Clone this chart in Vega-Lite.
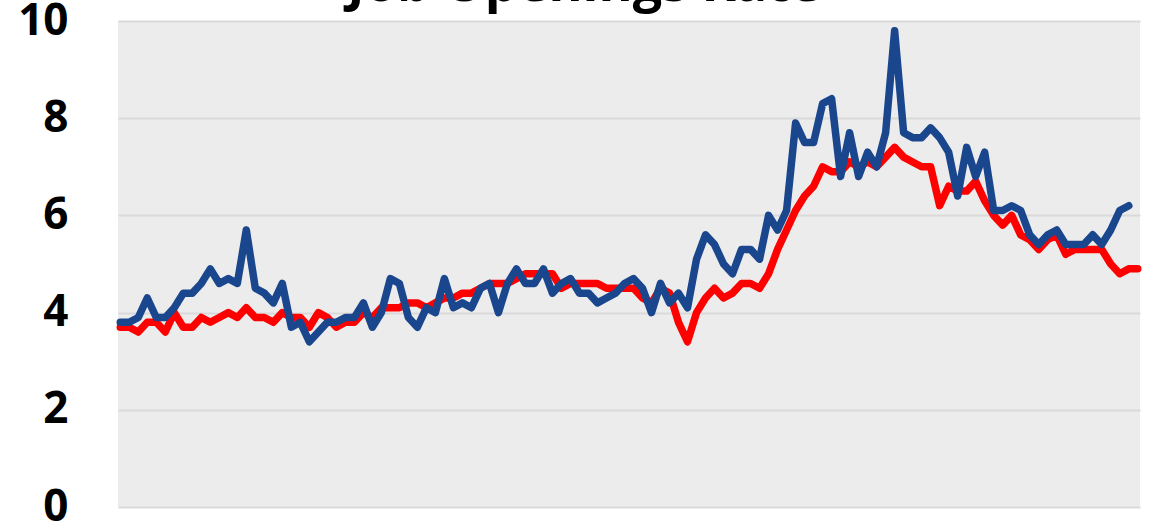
{
  "$schema": "https://vega.github.io/schema/vega-lite/v6.json",
  "autosize": {"type": "none"},
  "width": 1022,
  "height": 486,
  "padding": {"left": 118, "top": 21, "right": 12, "bottom": 19},
  "background": "white",
  "title": {"text": "Job Openings Rate", "font": "Open Sans", "fontSize": 52, "fontWeight": "bold", "color": "black", "anchor": "middle", "frame": "group", "dx": -45, "dy": 68, "baseline": "alphabetic", "offset": 14},
  "view": {"fill": "#ECECEC", "stroke": null},
  "data": {"values": [
    {"month": "2015-01", "total": 3.7, "sector": 3.8},
    {"month": "2015-02", "total": 3.7, "sector": 3.8},
    {"month": "2015-03", "total": 3.6, "sector": 3.9},
    {"month": "2015-04", "total": 3.8, "sector": 4.3},
    {"month": "2015-05", "total": 3.8, "sector": 3.9},
    {"month": "2015-06", "total": 3.6, "sector": 3.9},
    {"month": "2015-07", "total": 4.0, "sector": 4.1},
    {"month": "2015-08", "total": 3.7, "sector": 4.4},
    {"month": "2015-09", "total": 3.7, "sector": 4.4},
    {"month": "2015-10", "total": 3.9, "sector": 4.6},
    {"month": "2015-11", "total": 3.8, "sector": 4.9},
    {"month": "2015-12", "total": 3.9, "sector": 4.6},
    {"month": "2016-01", "total": 4.0, "sector": 4.7},
    {"month": "2016-02", "total": 3.9, "sector": 4.6},
    {"month": "2016-03", "total": 4.1, "sector": 5.7},
    {"month": "2016-04", "total": 3.9, "sector": 4.5},
    {"month": "2016-05", "total": 3.9, "sector": 4.4},
    {"month": "2016-06", "total": 3.8, "sector": 4.2},
    {"month": "2016-07", "total": 4.0, "sector": 4.6},
    {"month": "2016-08", "total": 3.9, "sector": 3.7},
    {"month": "2016-09", "total": 3.9, "sector": 3.8},
    {"month": "2016-10", "total": 3.7, "sector": 3.4},
    {"month": "2016-11", "total": 4.0, "sector": 3.6},
    {"month": "2016-12", "total": 3.9, "sector": 3.8},
    {"month": "2017-01", "total": 3.7, "sector": 3.8},
    {"month": "2017-02", "total": 3.8, "sector": 3.9},
    {"month": "2017-03", "total": 3.8, "sector": 3.9},
    {"month": "2017-04", "total": 4.0, "sector": 4.2},
    {"month": "2017-05", "total": 3.9, "sector": 3.7},
    {"month": "2017-06", "total": 4.1, "sector": 4.0},
    {"month": "2017-07", "total": 4.1, "sector": 4.7},
    {"month": "2017-08", "total": 4.1, "sector": 4.6},
    {"month": "2017-09", "total": 4.2, "sector": 3.9},
    {"month": "2017-10", "total": 4.2, "sector": 3.7},
    {"month": "2017-11", "total": 4.1, "sector": 4.1},
    {"month": "2017-12", "total": 4.2, "sector": 4.0},
    {"month": "2018-01", "total": 4.3, "sector": 4.7},
    {"month": "2018-02", "total": 4.3, "sector": 4.1},
    {"month": "2018-03", "total": 4.4, "sector": 4.2},
    {"month": "2018-04", "total": 4.4, "sector": 4.1},
    {"month": "2018-05", "total": 4.5, "sector": 4.5},
    {"month": "2018-06", "total": 4.6, "sector": 4.6},
    {"month": "2018-07", "total": 4.6, "sector": 4.0},
    {"month": "2018-08", "total": 4.6, "sector": 4.6},
    {"month": "2018-09", "total": 4.7, "sector": 4.9},
    {"month": "2018-10", "total": 4.8, "sector": 4.6},
    {"month": "2018-11", "total": 4.8, "sector": 4.6},
    {"month": "2018-12", "total": 4.8, "sector": 4.9},
    {"month": "2019-01", "total": 4.8, "sector": 4.4},
    {"month": "2019-02", "total": 4.5, "sector": 4.6},
    {"month": "2019-03", "total": 4.6, "sector": 4.7},
    {"month": "2019-04", "total": 4.6, "sector": 4.4},
    {"month": "2019-05", "total": 4.6, "sector": 4.4},
    {"month": "2019-06", "total": 4.6, "sector": 4.2},
    {"month": "2019-07", "total": 4.5, "sector": 4.3},
    {"month": "2019-08", "total": 4.5, "sector": 4.4},
    {"month": "2019-09", "total": 4.5, "sector": 4.6},
    {"month": "2019-10", "total": 4.5, "sector": 4.7},
    {"month": "2019-11", "total": 4.3, "sector": 4.5},
    {"month": "2019-12", "total": 4.2, "sector": 4.0},
    {"month": "2020-01", "total": 4.5, "sector": 4.6},
    {"month": "2020-02", "total": 4.4, "sector": 4.2},
    {"month": "2020-03", "total": 3.8, "sector": 4.4},
    {"month": "2020-04", "total": 3.4, "sector": 4.1},
    {"month": "2020-05", "total": 4.0, "sector": 5.1},
    {"month": "2020-06", "total": 4.3, "sector": 5.6},
    {"month": "2020-07", "total": 4.5, "sector": 5.4},
    {"month": "2020-08", "total": 4.3, "sector": 5.0},
    {"month": "2020-09", "total": 4.4, "sector": 4.8},
    {"month": "2020-10", "total": 4.6, "sector": 5.3},
    {"month": "2020-11", "total": 4.6, "sector": 5.3},
    {"month": "2020-12", "total": 4.5, "sector": 5.1},
    {"month": "2021-01", "total": 4.8, "sector": 6.0},
    {"month": "2021-02", "total": 5.3, "sector": 5.7},
    {"month": "2021-03", "total": 5.7, "sector": 6.1},
    {"month": "2021-04", "total": 6.1, "sector": 7.9},
    {"month": "2021-05", "total": 6.4, "sector": 7.5},
    {"month": "2021-06", "total": 6.6, "sector": 7.5},
    {"month": "2021-07", "total": 7.0, "sector": 8.3},
    {"month": "2021-08", "total": 6.9, "sector": 8.4},
    {"month": "2021-09", "total": 6.9, "sector": 6.8},
    {"month": "2021-10", "total": 7.1, "sector": 7.7},
    {"month": "2021-11", "total": 7.0, "sector": 6.8},
    {"month": "2021-12", "total": 7.1, "sector": 7.3},
    {"month": "2022-01", "total": 7.0, "sector": 7.0},
    {"month": "2022-02", "total": 7.2, "sector": 7.7},
    {"month": "2022-03", "total": 7.4, "sector": 9.8},
    {"month": "2022-04", "total": 7.2, "sector": 7.7},
    {"month": "2022-05", "total": 7.1, "sector": 7.6},
    {"month": "2022-06", "total": 7.0, "sector": 7.6},
    {"month": "2022-07", "total": 7.0, "sector": 7.8},
    {"month": "2022-08", "total": 6.2, "sector": 7.6},
    {"month": "2022-09", "total": 6.6, "sector": 7.3},
    {"month": "2022-10", "total": 6.5, "sector": 6.4},
    {"month": "2022-11", "total": 6.5, "sector": 7.4},
    {"month": "2022-12", "total": 6.7, "sector": 6.8},
    {"month": "2023-01", "total": 6.3, "sector": 7.3},
    {"month": "2023-02", "total": 6.0, "sector": 6.1},
    {"month": "2023-03", "total": 5.8, "sector": 6.1},
    {"month": "2023-04", "total": 6.0, "sector": 6.2},
    {"month": "2023-05", "total": 5.6, "sector": 6.1},
    {"month": "2023-06", "total": 5.5, "sector": 5.6},
    {"month": "2023-07", "total": 5.3, "sector": 5.4},
    {"month": "2023-08", "total": 5.5, "sector": 5.6},
    {"month": "2023-09", "total": 5.6, "sector": 5.7},
    {"month": "2023-10", "total": 5.2, "sector": 5.4},
    {"month": "2023-11", "total": 5.3, "sector": 5.4},
    {"month": "2023-12", "total": 5.3, "sector": 5.4},
    {"month": "2024-01", "total": 5.3, "sector": 5.6},
    {"month": "2024-02", "total": 5.3, "sector": 5.4},
    {"month": "2024-03", "total": 5.0, "sector": 5.7},
    {"month": "2024-04", "total": 4.8, "sector": 6.1},
    {"month": "2024-05", "total": 4.9, "sector": 6.2},
    {"month": "2024-06", "total": 4.9}
  ]},
  "encoding": {
    "x": {"field": "month", "type": "ordinal", "scale": {"type": "point", "padding": 0.25}, "axis": null}
  },
  "layer": [
    {
      "mark": {"type": "line", "color": "#FF0000", "strokeWidth": 7.5, "strokeJoin": "round", "strokeCap": "round"},
      "encoding": {
        "y": {"field": "total", "type": "quantitative", "scale": {"domain": [0, 10], "nice": false, "zero": true},
          "axis": {"values": [0, 2, 4, 6, 8, 10], "title": null, "grid": true, "gridColor": "#D9D9D9", "gridWidth": 2, "domain": false, "ticks": false,
            "labelFont": "Open Sans", "labelFontSize": 44, "labelFontWeight": "bold", "labelColor": "black", "labelPadding": 50,
            "labelFlush": false, "labelOverlap": false, "labelBound": false}}
      }
    },
    {
      "mark": {"type": "line", "color": "#1A468D", "strokeWidth": 7.5, "strokeJoin": "round", "strokeCap": "round"},
      "encoding": {
        "y": {"field": "sector", "type": "quantitative", "title": null}
      }
    }
  ]
}
